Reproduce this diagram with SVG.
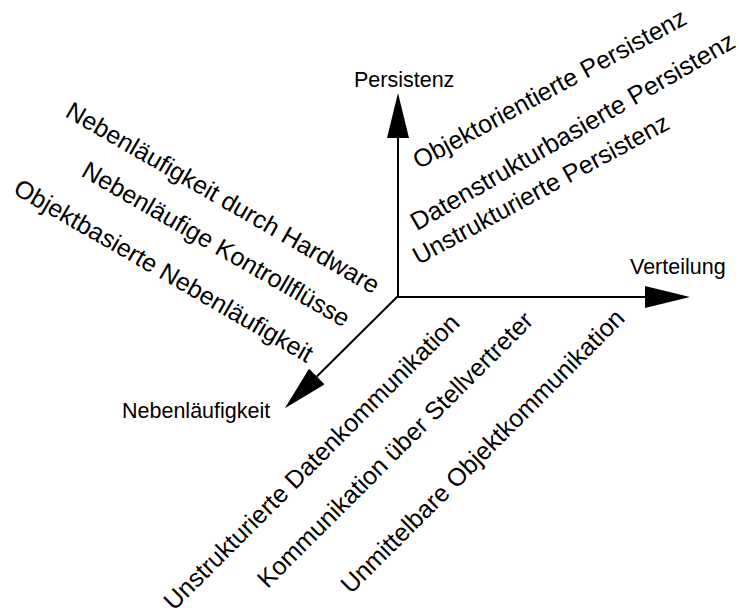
<svg xmlns="http://www.w3.org/2000/svg" width="739" height="614" viewBox="0 0 739 614">
<style>
.lbl{font-family:"Liberation Sans",Arial,sans-serif;fill:#000}
.ax{font-size:21.5px}
.dim{font-size:25px}
.axis{stroke:#000;stroke-width:2;fill:none}
</style>
<defs>
<marker id="head" viewBox="0 0 45 22" refX="0" refY="11" markerWidth="45" markerHeight="22" markerUnits="userSpaceOnUse" orient="auto">
<path d="M0,0 L45,11 L0,22 Z" fill="#000"/>
</marker>
</defs>
<rect width="739" height="614" fill="#fff"/>
<g id="connectors">
<line class="axis" x1="398" y1="297" x2="398" y2="138" marker-end="url(#head)"/>
<line class="axis" x1="397" y1="297" x2="645" y2="297" marker-end="url(#head)"/>
<line class="axis" x1="398" y1="296" x2="316.8" y2="376.5" marker-end="url(#head)"/>
</g>
<g id="axis-persistenz"><text class="lbl ax" x="354" y="87">Persistenz</text></g>
<g id="axis-verteilung"><text class="lbl ax" x="630" y="274">Verteilung</text></g>
<g id="axis-nebenlaeufigkeit"><text class="lbl ax" x="122" y="418">Nebenläufigkeit</text></g>
<g id="p1"><text class="lbl dim" transform="translate(418.7,169.6) rotate(-28.5)">Objektorientierte Persistenz</text></g>
<g id="p2"><text class="lbl dim" style="font-size:25.5px" transform="translate(416.7,231.3) rotate(-30)">Datenstrukturbasierte Persistenz</text></g>
<g id="p3"><text class="lbl dim" transform="translate(418.4,265.2) rotate(-28.5)">Unstrukturierte Persistenz</text></g>
<g id="n1"><text class="lbl dim" transform="translate(64,116) rotate(30)">Nebenläufigkeit durch Hardware</text></g>
<g id="n2"><text class="lbl dim" transform="translate(80,175.5) rotate(30)">Nebenläufige Kontrollflüsse</text></g>
<g id="n3"><text class="lbl dim" transform="translate(12,193) rotate(30)">Objektbasierte Nebenläufigkeit</text></g>
<g id="v1"><text class="lbl dim" text-anchor="end" transform="translate(461,324.5) rotate(-45)">Unstrukturierte Datenkommunikation</text></g>
<g id="v2"><text class="lbl dim" transform="translate(267.5,589.3) rotate(-45)">Kommunikation über Stellvertreter</text></g>
<g id="v3"><text class="lbl dim" transform="translate(351,594.8) rotate(-45)">Unmittelbare Objektkommunikation</text></g>
</svg>
